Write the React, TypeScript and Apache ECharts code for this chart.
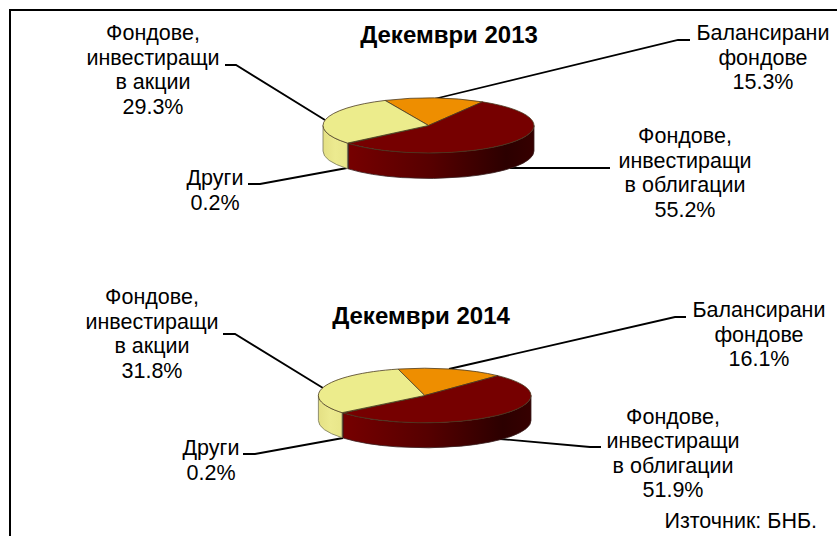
import React, { useEffect, useRef } from "react";
import * as echarts from "echarts";

// ---- data ----
const categories = ["Балансирани\nфондове", "Фондове,\nинвестиращи\nв облигации", "Други", "Фондове,\nинвестиращи\nв акции"];
const values2013 = [15.3, 55.2, 0.2, 29.3];
const values2014 = [16.1, 51.9, 0.2, 31.8];
const titles = ["Декември 2013", "Декември 2014"];
const sourceNote = "Източник: БНБ.";

// ---- styling / layout ----
const FONT = "'Liberation Sans', Arial, sans-serif";
const topColors = ["#ee8e00", "#760000", "#5a5a20", "#ecec8c"];
const pies = [
  { values: values2013, cx: 428.5, cy: 125.5, rx: 105.5, ry: 27.5, depth: 25.5, start: -24.3 },
  { values: values2014, cx: 424.7, cy: 395.5, rx: 106.3, ry: 27.3, depth: 25, start: -14.5 },
];
const titlePos = [
  { x: 449, y: 22 },
  { x: 421, y: 303 },
];
const labelPos = [
  [
    { x: 763, y: 57.5 },
    { x: 685, y: 173 },
    { x: 215, y: 190.5 },
    { x: 153, y: 70 },
  ],
  [
    { x: 759, y: 334.5 },
    { x: 673, y: 453.5 },
    { x: 211, y: 460.5 },
    { x: 152, y: 334 },
  ],
];
const leaders = [
  [
    [[690, 40], [678, 40], [434, 99]],
    [[610, 168], [510, 168]],
    [[248, 184], [260, 184], [347, 168]],
    [[225, 65], [236, 65], [325, 120]],
  ],
  [
    [[686, 317], [675, 317], [449, 369]],
    [[601, 447], [590, 447], [500, 439]],
    [[243, 454], [255, 454], [343, 438]],
    [[223, 334], [235, 334], [323, 388]],
  ],
];

const pt = (p: any, deg: number, dy = 0) => {
  const a = (deg * Math.PI) / 180;
  return [p.cx + p.rx * Math.sin(a), p.cy - p.ry * Math.cos(a) + dy];
};

const topPath = (p: any, a0: number, a1: number) => {
  const s = pt(p, a0);
  const e = pt(p, a1);
  const large = a1 - a0 > 180 ? 1 : 0;
  return `M${p.cx} ${p.cy}L${s[0]} ${s[1]}A${p.rx} ${p.ry} 0 ${large} 1 ${e[0]} ${e[1]}Z`;
};

const wallPath = (p: any, a0: number, a1: number) => {
  const s = pt(p, a0);
  const e = pt(p, a1);
  const e2 = pt(p, a1, p.depth);
  const s2 = pt(p, a0, p.depth);
  return `M${s[0]} ${s[1]}A${p.rx} ${p.ry} 0 0 1 ${e[0]} ${e[1]}L${e2[0]} ${e2[1]}A${p.rx} ${p.ry} 0 0 0 ${s2[0]} ${s2[1]}Z`;
};

const wallFill = (i: number) => {
  if (i === 1)
    return new echarts.graphic.LinearGradient(0, 0, 1, 0, [
      { offset: 0, color: "#760000" },
      { offset: 0.45, color: "#560000" },
      { offset: 0.85, color: "#2c0000" },
      { offset: 1, color: "#360000" },
    ]);
  if (i === 3)
    return new echarts.graphic.LinearGradient(0, 0, 1, 0, [
      { offset: 0, color: "#e4e084" },
      { offset: 0.5, color: "#ecea90" },
      { offset: 1, color: "#e8e68a" },
    ]);
  return topColors[i];
};

const pieSeries = (p: any) => ({
  type: "custom",
  coordinateSystem: "none",
  silent: true,
  data: p.values.map((v: number) => [v]),
  renderItem: (params: any, api: any) => {
    const i = params.dataIndex;
    const total = p.values.reduce((s: number, v: number) => s + v, 0);
    const before = p.values.slice(0, i).reduce((s: number, v: number) => s + v, 0);
    const a0 = p.start + (before / total) * 360;
    const a1 = a0 + (api.value(0) / total) * 360;
    const children: any[] = [];
    // the front wall is the part of the rim between 90° and 270°
    const w0 = Math.max(a0, 90);
    const w1 = Math.min(a1, 270);
    if (w1 > w0) {
      children.push({
        type: "path",
        shape: { pathData: wallPath(p, w0, w1) },
        style: { fill: wallFill(i), stroke: i === 3 ? "#77775a" : "#3a2020", lineWidth: 0.8 },
      });
    }
    children.push({
      type: "path",
      shape: { pathData: topPath(p, a0, a1) },
      style: { fill: topColors[i], stroke: "#4a3a20", lineWidth: 0.8 },
    });
    return { type: "group", children };
  },
});

const App = () => {
  const ref = useRef<HTMLDivElement>(null);
  useEffect(() => {
    document.body.style.margin = "0";
    const chart = echarts.init(ref.current!, null, { renderer: "svg" });
    const graphic: any[] = [
      {
        type: "polyline",
        shape: { points: [[10, 536], [10, 10], [837, 10]] },
        style: { stroke: "#000", lineWidth: 2, fill: "none" },
      },
      {
        type: "text",
        x: 817,
        y: 521,
        style: { text: sourceNote, font: `21.5px ${FONT}`, fill: "#000", align: "right", verticalAlign: "middle" },
      },
    ];
    pies.forEach((p, k) => {
      p.values.forEach((v, i) => {
        graphic.push({
          type: "polyline",
          shape: { points: leaders[k][i] },
          style: { stroke: "#000", lineWidth: 1.8, fill: "none" },
          z: 1,
        });
        graphic.push({
          type: "text",
          x: labelPos[k][i].x,
          y: labelPos[k][i].y,
          style: {
            text: `${categories[i]}\n${v}%`,
            font: `21.5px ${FONT}`,
            lineHeight: 24.6,
            fill: "#000",
            align: "center",
            verticalAlign: "middle",
          },
        });
      });
    });
    chart.setOption({
      animation: false,
      backgroundColor: "#fff",
      title: titles.map((t, k) => ({
        text: t,
        left: titlePos[k].x,
        top: titlePos[k].y,
        textAlign: "center",
        padding: 0,
        textStyle: { fontFamily: FONT, fontSize: 24, fontWeight: "bold", color: "#000" },
      })),
      graphic,
      series: pies.map(pieSeries),
    });
    return () => chart.dispose();
  }, []);
  return <div ref={ref} style={{ position: "fixed", left: 0, top: 0, width: 837, height: 536 }} />;
};

export default App;
